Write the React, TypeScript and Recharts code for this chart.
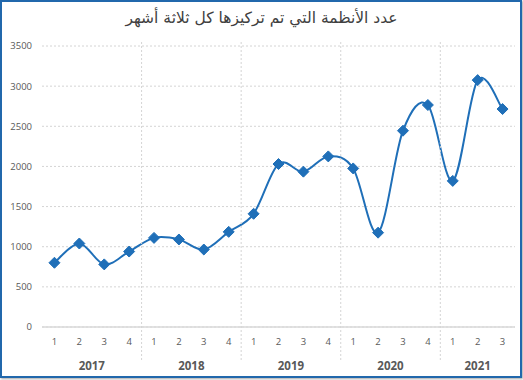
import React from "react"
import { LineChart, Line, XAxis, YAxis, CartesianGrid } from "recharts"

const TITLE = "عدد الأنظمة التي تم تركيزها كل ثلاثة أشهر"

const years = ["2017", "2017", "2017", "2017", "2018", "2018", "2018", "2018", "2019", "2019", "2019", "2019", "2020", "2020", "2020", "2020", "2021", "2021", "2021"]
const quarters = ["1", "2", "3", "4", "1", "2", "3", "4", "1", "2", "3", "4", "1", "2", "3", "4", "1", "2", "3"]
const systems = [800, 1040, 780, 940, 1110, 1090, 965, 1185, 1410, 2030, 1935, 2125, 1975, 1175, 2445, 2765, 1820, 3075, 2715]
const yTicks = [0, 500, 1000, 1500, 2000, 2500, 3000, 3500]

const data = systems.map((v, i) => ({ idx: i, year: years[i], q: quarters[i], value: v }))

// chart geometry
const W = 523
const H = 380
const M = { top: 46, right: 8, bottom: 0, left: 0 }
const Y_AXIS_W = 42
const Q_AXIS_H = 20
const YEAR_AXIS_H = 33
const PLOT_TOP = M.top
const PLOT_BOTTOM = H - M.bottom - Q_AXIS_H - YEAR_AXIS_H
const BAND = (W - M.left - M.right - Y_AXIS_W) / data.length
const PAD = { left: BAND / 2, right: BAND / 2 }

const BLUE = "#1F6FB8"
const LABEL = "#595959"
const GRID = "#d4d4d4"
const FONT = "'Open Sans', 'Liberation Sans', sans-serif"

// excel-like smoothed line (catmull-rom through points)
const smoothCurve = (context: any) => {
  let pts: number[][] = []
  return {
    areaStart() {},
    areaEnd() {},
    lineStart() {
      pts = []
    },
    point(x: number, y: number) {
      pts.push([+x, +y])
    },
    lineEnd() {
      if (!pts.length) return
      context.moveTo(pts[0][0], pts[0][1])
      for (let i = 0; i < pts.length - 1; i++) {
        const p0 = pts[i - 1] || pts[i]
        const p1 = pts[i]
        const p2 = pts[i + 1]
        const p3 = pts[i + 2] || p2
        context.bezierCurveTo(
          p1[0] + (p2[0] - p0[0]) / 6,
          p1[1] + (p2[1] - p0[1]) / 6,
          p2[0] - (p3[0] - p1[0]) / 6,
          p2[1] - (p3[1] - p1[1]) / 6,
          p2[0],
          p2[1]
        )
      }
    },
  }
}

const Diamond = (props: any) => {
  const { cx, cy } = props
  if (cx == null || cy == null) return null
  const r = 5.5
  return <polygon points={`${cx},${cy - r} ${cx + r},${cy} ${cx},${cy + r} ${cx - r},${cy}`} fill={BLUE} stroke={BLUE} strokeWidth={1} />
}

const YearTick = (props: any) => {
  const { x, index } = props
  const yr = years[index]
  if (index > 0 && years[index - 1] === yr) return null
  let n = 0
  while (years[index + n] === yr) n++
  const cx = x + ((n - 1) / 2) * BAND
  return (
    <g>
      {index > 0 && (
        <line x1={x - BAND / 2} x2={x - BAND / 2} y1={PLOT_TOP - 4} y2={PLOT_BOTTOM + 35} stroke={GRID} strokeDasharray="2 2" />
      )}
      <text x={cx} y={PLOT_BOTTOM + 38} textAnchor="middle" dominantBaseline="central" fill={LABEL} fontSize={11.5} fontWeight="bold" fontFamily={FONT}>
        {yr}
      </text>
    </g>
  )
}

export default function App() {
  return (
    <div style={{ position: "absolute", left: 0, top: 0, width: W, height: H, background: "#fff" }}>
      <div
        style={{
          position: "absolute",
          left: 0,
          top: 0,
          width: 522,
          height: 378,
          boxSizing: "border-box",
          border: "2px solid #2168AC",
          boxShadow: "1px 1px 2px rgba(0,0,0,0.35)",
        }}
      />
      <div
        style={{
          position: "absolute",
          left: 0,
          top: 9,
          width: W,
          textAlign: "center",
          direction: "rtl",
          fontFamily: "'DejaVu Sans', sans-serif",
          fontSize: 15.5,
          color: "#404040",
        }}
      >
        {TITLE}
      </div>
      <div style={{ position: "absolute", left: 0, top: 0 }}>
        <LineChart width={W} height={H} data={data} margin={M}>
          <CartesianGrid vertical={false} stroke={GRID} strokeDasharray="2 2" />
          <YAxis
            domain={[0, 3500]}
            ticks={yTicks}
            width={Y_AXIS_W}
            axisLine={false}
            tickLine={false}
            tickMargin={4}
            tick={{ fill: LABEL, fontSize: 9.5, fontFamily: FONT }}
          />
          <XAxis
            dataKey="idx"
            tickFormatter={(v: number) => quarters[v]}
            interval={0}
            padding={PAD}
            height={Q_AXIS_H}
            axisLine={{ stroke: "#d9d9d9", strokeWidth: 1.5 }}
            tickLine={false}
            tickMargin={5}
            tick={{ fill: LABEL, fontSize: 9.5, fontFamily: FONT }}
          />
          <XAxis
            xAxisId="year"
            dataKey="idx"
            interval={0}
            padding={PAD}
            height={YEAR_AXIS_H}
            axisLine={false}
            tickLine={false}
            tick={<YearTick />}
          />
          <Line
            dataKey="value"
            type={smoothCurve as any}
            stroke={BLUE}
            strokeWidth={2}
            dot={<Diamond />}
            activeDot={false}
            isAnimationActive={false}
          />
        </LineChart>
      </div>
    </div>
  )
}
